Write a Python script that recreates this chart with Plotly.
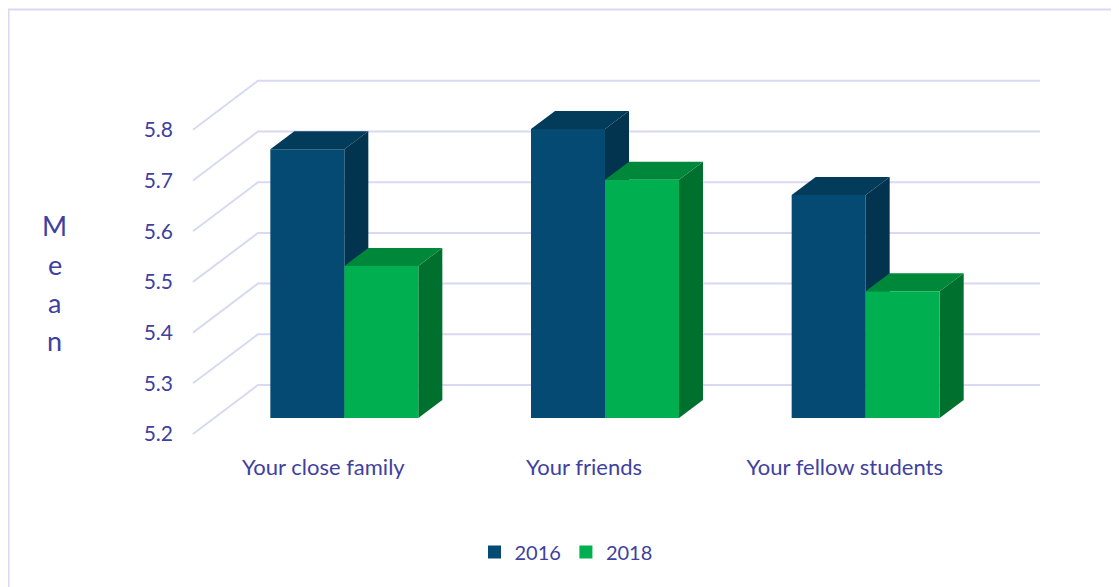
import plotly.graph_objects as go

# ---- data ----
categories = ["Your close family", "Your friends", "Your fellow students"]
series_names = ["2016", "2018"]
values_2016 = [5.73, 5.77, 5.64]
values_2018 = [5.50, 5.67, 5.45]
tick_values = [5.2, 5.3, 5.4, 5.5, 5.6, 5.7, 5.8]
tick_labels = ["5.2", "5.3", "5.4", "5.5", "5.6", "5.7", "5.8"]
axis_title = "Mean"

# ---- styling / geometry (screen pixels; page body has 8px margin) ----
OFF = 8
W, H = 1119 - OFF, 587 - OFF
PL, PR, PT, PB = 180, 1045, 75, 440      # plot area in screen pixels
FRONT_LEFT_PX = 193                      # front plane x of category -0.5
FRONT_BASE_PX = 434                      # front plane y of axis minimum
PXC = 260.67                             # pixels per category
PXV = 507.0                              # pixels per value unit
YMIN = tick_values[0]

WALL_DX, WALL_DY = 65, 49                # depth of back wall
BAR_DX, BAR_DY = 21, 16                  # bar front plane offset
DEPTH_DX, DEPTH_DY = 24, 18              # bar depth
BAR_W = 74                               # bar width in px

TEXT = "#4040A0"
GRID = "#D9D9F2"
FONT = "Lato"
front_cols = ["#044A72", "#00B050"]
top_cols = ["#033B5B", "#00883A"]
side_cols = ["#02334F", "#00702F"]

def cx(px):  # pixel offset -> category units
    return px / PXC

def vy(px):  # pixel offset -> value units
    return px / PXV

xr = [-0.5 + (PL - FRONT_LEFT_PX) / PXC, -0.5 + (PR - FRONT_LEFT_PX) / PXC]
yr = [YMIN - (PB - FRONT_BASE_PX) / PXV, YMIN + (FRONT_BASE_PX - PT) / PXV]

fig = go.Figure()

# back wall gridlines + diagonals
ncat = len(categories)
for v in tick_values:
    xs = [-0.5, -0.5 + cx(WALL_DX), ncat - 0.5 + cx(WALL_DX)]
    ys = [v, v + vy(WALL_DY), v + vy(WALL_DY)]
    fig.add_trace(go.Scatter(x=xs, y=ys, mode="lines",
                             line=dict(color=GRID, width=2),
                             hoverinfo="skip", showlegend=False))

series = [values_2016, values_2018]
bw = cx(BAR_W)
for i in range(ncat):
    for s, vals in enumerate(series):
        val = vals[i]
        x0 = i + cx(BAR_DX) - bw + s * bw
        x1 = x0 + bw
        b = YMIN + vy(BAR_DY)
        t = val + vy(BAR_DY)
        ddx, ddy = cx(DEPTH_DX), vy(DEPTH_DY)
        # side face
        fig.add_trace(go.Scatter(
            x=[x1, x1, x1 + ddx, x1 + ddx, x1], y=[b, t, t + ddy, b + ddy, b],
            fill="toself", fillcolor=side_cols[s], mode="lines",
            line=dict(width=0, color=side_cols[s]), hoverinfo="skip", showlegend=False))
        # top face
        fig.add_trace(go.Scatter(
            x=[x0, x1, x1 + ddx, x0 + ddx, x0], y=[t, t, t + ddy, t + ddy, t],
            fill="toself", fillcolor=top_cols[s], mode="lines",
            line=dict(width=0, color=top_cols[s]), hoverinfo="skip", showlegend=False))
        # front face
        fig.add_trace(go.Scatter(
            x=[x0, x1, x1, x0, x0], y=[b, b, t, t, b],
            fill="toself", fillcolor=front_cols[s], mode="lines",
            line=dict(width=0, color=front_cols[s]), hoverinfo="skip", showlegend=False))

# legend entries
for s, name in enumerate(series_names):
    fig.add_trace(go.Scatter(x=[None], y=[None], mode="markers", name=name,
                             marker=dict(symbol="square", size=13, color=front_cols[s])))

pw, ph = PR - PL, PB - PT

def pxx(px):
    return (px - PL) / pw

def pxy(py):
    return (PB - py) / ph

# "Mean" stacked letters
letter_y = [225, 264, 302, 340]
for ch, ly in zip(axis_title, letter_y):
    fig.add_annotation(text=ch, x=pxx(55), y=pxy(ly), xref="paper", yref="paper",
                       showarrow=False, font=dict(family=FONT, size=27, color=TEXT),
                       xanchor="center", yanchor="middle")

# outer border
fig.add_shape(type="rect", xref="paper", yref="paper",
              x0=pxx(8.5), x1=pxx(1116.5), y0=pxy(600), y1=pxy(9.5),
              line=dict(color=GRID, width=2), fillcolor="rgba(0,0,0,0)", layer="below")

fig.update_layout(
    width=W, height=H,
    margin=dict(l=PL - OFF, r=(W + OFF) - PR, t=PT - OFF, b=(H + OFF) - PB, pad=0),
    paper_bgcolor="white", plot_bgcolor="white",
    font=dict(family=FONT, size=20, color=TEXT),
    xaxis=dict(range=xr, tickmode="array", tickvals=list(range(ncat)), ticktext=categories,
               showgrid=False, zeroline=False, showline=False, ticks="",
               ticklabelstandoff=12, tickfont=dict(size=22, color=TEXT), fixedrange=True),
    yaxis=dict(range=yr, tickmode="array", tickvals=tick_values, ticktext=tick_labels,
               showgrid=False, zeroline=False, showline=False, ticks="",
               ticklabelstandoff=6, tickfont=dict(size=21, color=TEXT), fixedrange=True),
    legend=dict(orientation="h", x=(566 - OFF) / W, xanchor="center", xref="container",
                y=1 - (552 - OFF) / H, yanchor="middle", yref="container",
                font=dict(size=20, color=TEXT), itemwidth=30, traceorder="normal"),
    showlegend=True,
)

fig.write_html("out.html")
